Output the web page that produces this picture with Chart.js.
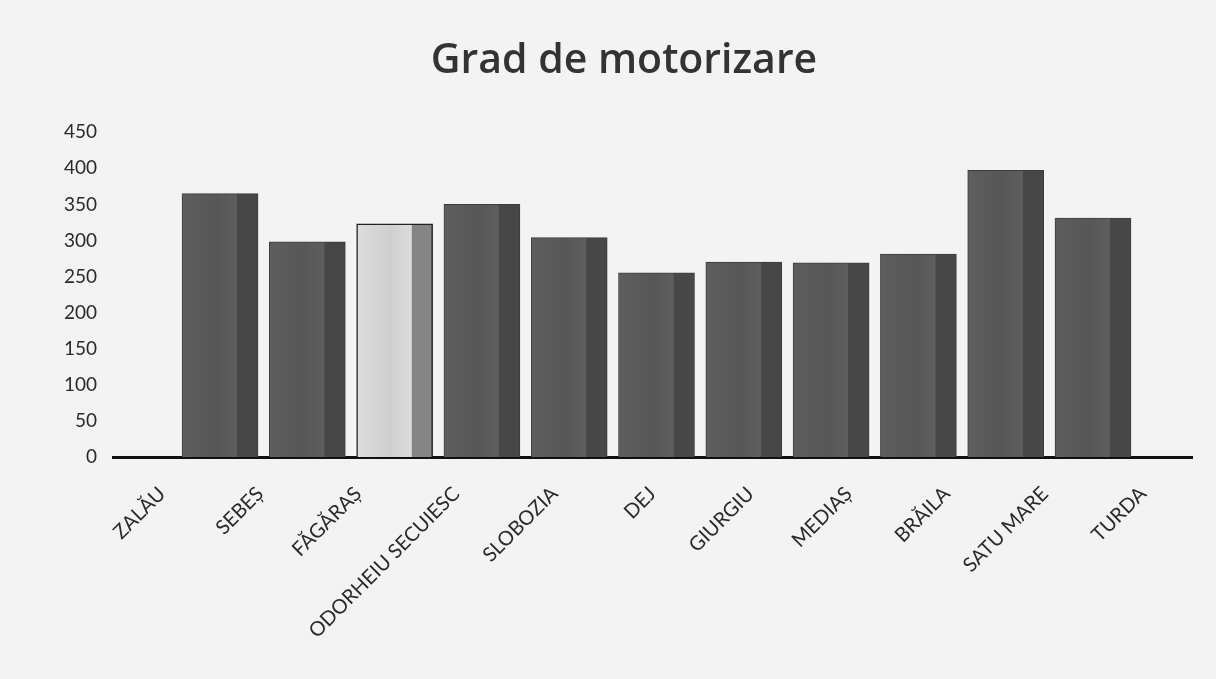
<!DOCTYPE html>
<html>
<head>
<meta charset="utf-8">
<script src="https://cdn.jsdelivr.net/npm/chart.js@4/dist/chart.umd.min.js"></script>
<style>
  html, body { margin: 0; padding: 0; background: #f3f3f3; }
  #wrap { width: 1216px; height: 679px; }
</style>
</head>
<body>
<div id="wrap"><canvas id="motorChart" width="1216" height="679"></canvas></div>
<script>
const cities = ["ZALĂU", "SEBEȘ", "FĂGĂRAȘ", "ODORHEIU SECUIESC", "SLOBOZIA", "DEJ",
  "GIURGIU", "MEDIAȘ", "BRĂILA", "SATU MARE", "TURDA"];
const motorizare = [365, 298, 323, 350, 304, 255, 270, 269, 281, 397, 331];
const yTicks = [0, 50, 100, 150, 200, 250, 300, 350, 400, 450];
const highlighted = "FĂGĂRAȘ";

const BAR_W = 76;

// front face lighter, right side face darker, like the 3D columns
function barFill(ctx) {
  const hl = cities[ctx.dataIndex] === highlighted;
  const chart = ctx.chart;
  const xs = chart.scales.xb;
  const cx = xs ? xs.getPixelForValue(ctx.dataIndex) : NaN;
  if (!chart.chartArea || !isFinite(cx)) return hl ? "#d8d8d8" : "#595959";
  const g = chart.ctx.createLinearGradient(cx - BAR_W / 2, 0, cx + BAR_W / 2, 0);
  const front = hl ? "#dcdcdc" : "#5e5e5e";
  const front2 = hl ? "#cfcfcf" : "#575757";
  const side = hl ? "#858585" : "#474747";
  g.addColorStop(0, front);
  g.addColorStop(0.45, front2);
  g.addColorStop(0.72, front);
  g.addColorStop(0.73, side);
  g.addColorStop(1, side);
  return g;
}

new Chart(document.getElementById("motorChart"), {
  type: "bar",
  data: {
    labels: cities,
    datasets: [{
      label: "Grad de motorizare",
      data: motorizare.map((v, i) => ({ x: i, y: v })),
      xAxisID: "xb",
      yAxisID: "y",
      backgroundColor: barFill,
      borderColor: ctx => cities[ctx.dataIndex] === highlighted ? "#222" : "#3c3c3c",
      borderWidth: ctx => cities[ctx.dataIndex] === highlighted ? 1.5 : 1,
      barThickness: BAR_W
    }]
  },
  options: {
    responsive: false,
    animation: false,
    layout: { padding: { left: 56, right: 24, top: 0, bottom: 0 } },
    plugins: {
      legend: { display: false },
      tooltip: { enabled: false },
      title: {
        display: true,
        text: "Grad de motorizare",
        color: "#333",
        font: { family: "Open Sans", size: 41, weight: "600", lineHeight: 1.2 },
        padding: { top: 37, bottom: 46 }
      }
    },
    scales: {
      x: {
        type: "category",
        position: "bottom",
        offset: true,
        grid: { display: false, offset: true },
        border: { display: true, color: "#111", width: 3 },
        ticks: {
          autoSkip: false,
          minRotation: 45,
          maxRotation: 45,
          padding: 17,
          color: "#2a2a2a",
          font: { family: "Lato", size: 20 }
        },
        afterFit: s => { s.height = 222; }
      },
      xb: {
        type: "linear",
        display: false,
        offset: false,
        min: -1.226,
        max: 11.134,
        grid: { display: false }
      },
      y: {
        type: "linear",
        min: 0,
        max: 450,
        afterBuildTicks: s => { s.ticks = yTicks.map(v => ({ value: v })); },
        grid: { display: false },
        border: { display: false },
        ticks: {
          padding: 8,
          color: "#2a2a2a",
          font: { family: "Lato", size: 19 }
        },
        afterFit: s => { s.width = 57; }
      }
    }
  }
});
</script>
</body>
</html>
